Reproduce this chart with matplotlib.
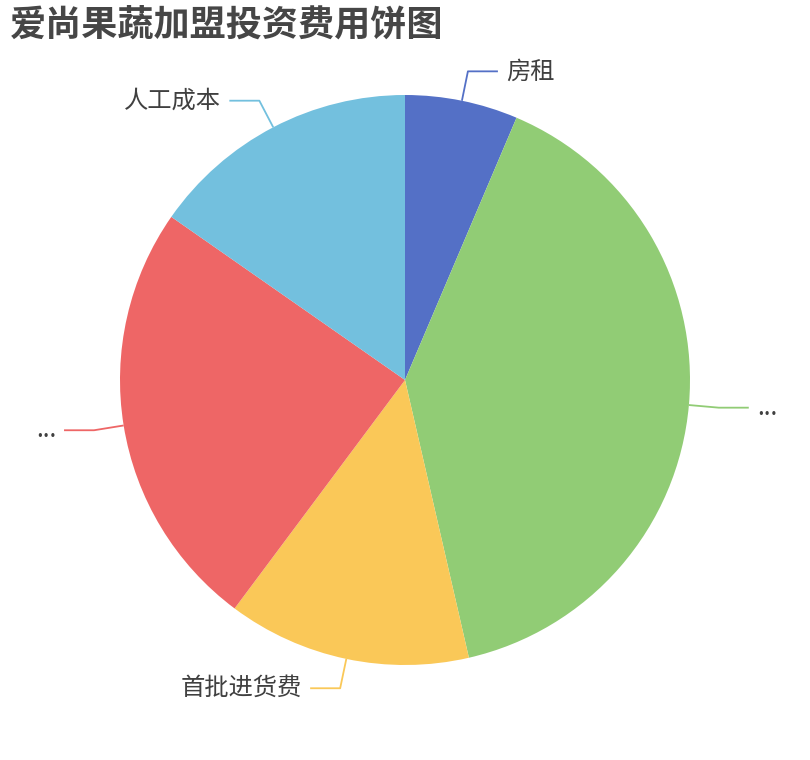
import matplotlib
matplotlib.use("Agg")
import matplotlib.pyplot as plt
import numpy as np

plt.rcParams['font.family'] = ['Noto Sans CJK SC', 'DejaVu Sans']

title = "爱尚果蔬加盟投资费用饼图"
names = ["房租", "...", "首批进货费", "...", "人工成本"]
values = [6.4, 40.0, 13.8, 24.5, 15.3]
colors = ["#5470c6", "#91cc75", "#fac858", "#ee6666", "#73c0de"]

W, H = 810, 760
fig = plt.figure(figsize=(W / 100, H / 100), dpi=100)
ax = fig.add_axes([0, 0, 1, 1])

cx, cy, R = 405, 380, 285
wedges, _ = ax.pie(values, colors=colors, startangle=90, counterclock=False,
                   center=(cx, cy), radius=R, frame=True,
                   wedgeprops=dict(linewidth=0))
ax.set_xlim(0, W)
ax.set_ylim(0, H)
ax.set_aspect('equal')
ax.axis('off')

len1, len2, gap = 30, 30, 8
for w, name, col in zip(wedges, names, colors):
    mid = np.deg2rad((w.theta1 + w.theta2) / 2)
    ux, uy = np.cos(mid), np.sin(mid)
    x0, y0 = cx + R * ux, cy + R * uy
    x1, y1 = cx + (R + len1) * ux, cy + (R + len1) * uy
    side = 1 if ux >= 0 else -1
    x2 = x1 + side * len2
    ax.plot([x0, x1, x2], [y0, y1, y1], color=col, lw=1.3, solid_capstyle='butt')
    ax.text(x2 + side * gap, y1, name, ha='left' if side > 0 else 'right',
            va='center', fontsize=17.5, color='#404040')

fig.text(10 / W, 1 - 25 / H, title, fontsize=26, fontweight='bold',
         color='#464646', ha='left', va='center')

fig.savefig("out.png", dpi=100, facecolor='white')
